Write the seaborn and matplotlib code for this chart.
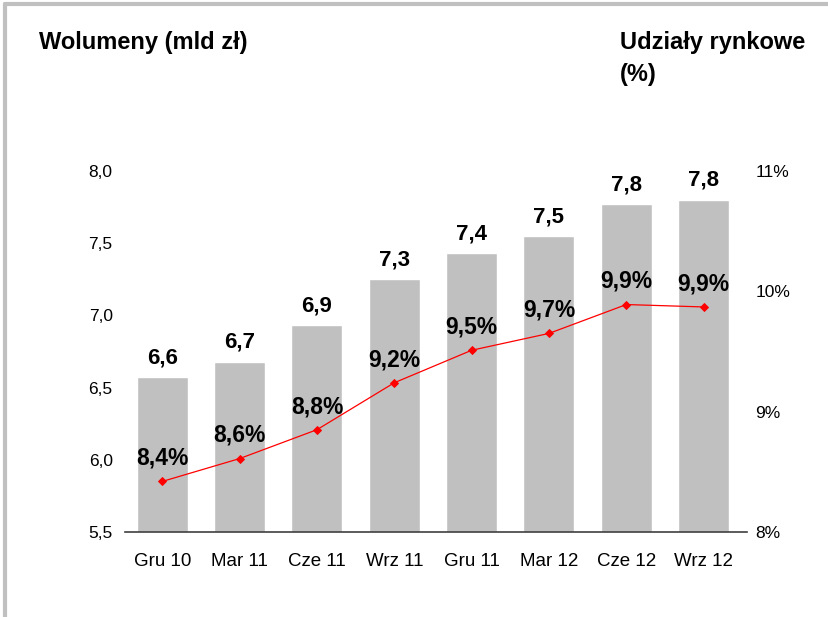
import matplotlib
matplotlib.use("Agg")
import matplotlib.pyplot as plt
import seaborn as sns
import pandas as pd
from matplotlib.lines import Line2D

categories = ["Gru 10", "Mar 11", "Cze 11", "Wrz 11", "Gru 11", "Mar 12", "Cze 12", "Wrz 12"]
volumes = [6.57, 6.68, 6.93, 7.25, 7.43, 7.55, 7.77, 7.80]
volume_labels = ["6,6", "6,7", "6,9", "7,3", "7,4", "7,5", "7,8", "7,8"]
shares = [8.42, 8.61, 8.85, 9.24, 9.51, 9.65, 9.89, 9.87]
share_labels = ["8,4%", "8,6%", "8,8%", "9,2%", "9,5%", "9,7%", "9,9%", "9,9%"]
left_ticks = [5.5, 6.0, 6.5, 7.0, 7.5, 8.0]
left_tick_labels = ["5,5", "6,0", "6,5", "7,0", "7,5", "8,0"]
right_ticks = [8, 9, 10, 11]
right_tick_labels = ["8%", "9%", "10%", "11%"]

sns.set_theme(style="white")
plt.rcParams["font.family"] = ["Liberation Sans", "DejaVu Sans"]
plt.rcParams["text.color"] = "black"
plt.rcParams["xtick.color"] = "black"
plt.rcParams["ytick.color"] = "black"

df = pd.DataFrame({"cat": categories, "vol": volumes, "share": shares})

fig = plt.figure(figsize=(8.29, 6.17), dpi=100)
ax = fig.add_axes([0.151, 0.1378, 0.750, 0.5851])

sns.barplot(data=df, x="cat", y="vol", color="#c0c0c0", saturation=1, width=0.66, ax=ax)
ax.set_ylim(5.5, 8.0)
ax.set_yticks(left_ticks)
ax.set_yticklabels(left_tick_labels, fontsize=12.5)
ax.set_xlabel("")
ax.set_ylabel("")
ax.tick_params(axis="x", labelsize=13.5, length=0, pad=15)
ax.tick_params(axis="y", length=0, pad=9)
for s in ["top", "right", "left"]:
    ax.spines[s].set_visible(False)
ax.spines["bottom"].set_color("#404040")
ax.spines["bottom"].set_linewidth(1.2)

for i, (v, lab) in enumerate(zip(volumes, volume_labels)):
    ax.annotate(lab, (i, v), xytext=(0, 10), textcoords="offset points",
                ha="center", va="baseline", fontsize=16, fontweight="bold", color="black")

ax2 = ax.twinx()
sns.pointplot(data=df, x="cat", y="share", color="red", markers="D", markersize=4,
              linewidth=0.9, ax=ax2, errorbar=None)
ax2.set_ylim(8, 11)
ax2.set_yticks(right_ticks)
ax2.set_yticklabels(right_tick_labels, fontsize=12.5)
ax2.set_ylabel("")
ax2.set_xlabel("")
ax2.tick_params(axis="y", length=0, pad=6)
for s in ["top", "right", "left", "bottom"]:
    ax2.spines[s].set_visible(False)

for i, (v, lab) in enumerate(zip(shares, share_labels)):
    ax2.annotate(lab, (i, v), xytext=(0, 12), textcoords="offset points",
                 ha="center", va="baseline", fontsize=16.5, fontweight="bold", color="black")

ax.set_xlim(-0.48, 7.56)
ax2.set_xlim(-0.48, 7.56)

fig.text(0.047, 0.9206, "Wolumeny (mld zł)", fontsize=17, fontweight="bold", va="baseline", ha="left")
fig.text(0.748, 0.9206, "Udziały rynkowe", fontsize=17, fontweight="bold", va="baseline", ha="left")
fig.text(0.748, 0.868, "(%)", fontsize=17, fontweight="bold", va="baseline", ha="left")

# light grey frame along top and left edges
fig.add_artist(Line2D([0.0065, 1.0], [0.9935, 0.9935], transform=fig.transFigure, color="#c0c0c0", linewidth=3))
fig.add_artist(Line2D([0.0065, 0.0065], [0.0, 0.9935], transform=fig.transFigure, color="#c0c0c0", linewidth=3))

fig.savefig("out.png", dpi=100, facecolor="white")
